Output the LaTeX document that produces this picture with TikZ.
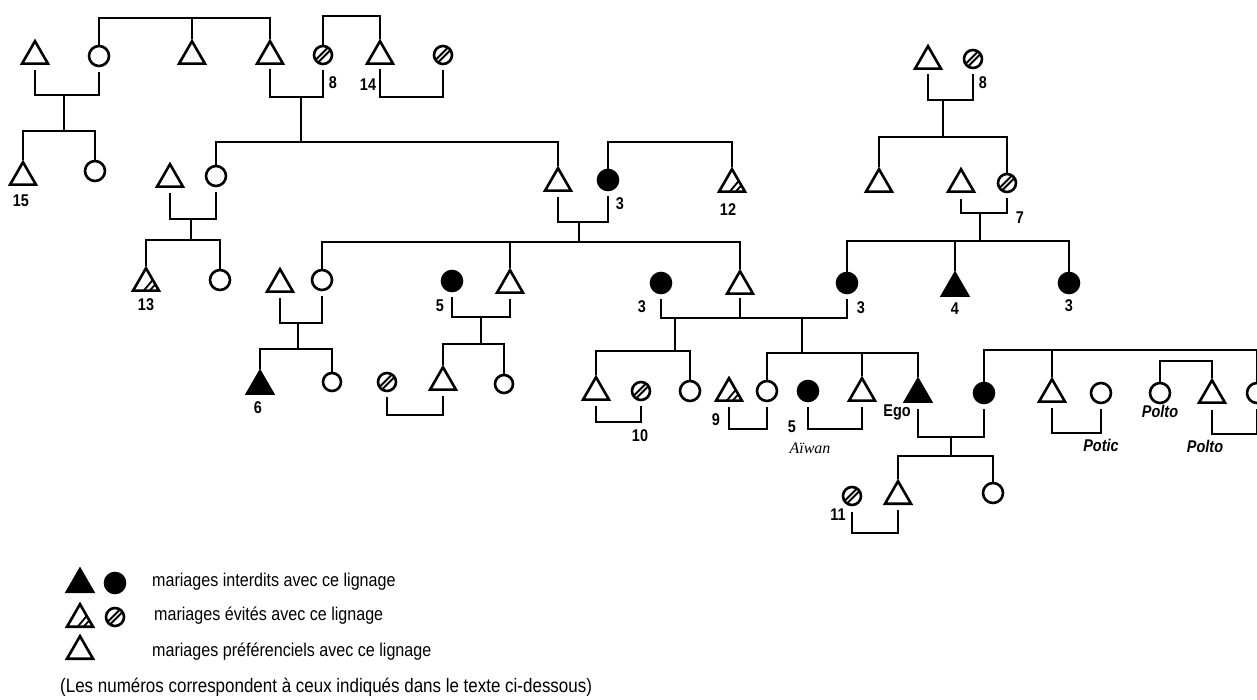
\documentclass[tikz,border=0pt]{standalone}
\usepackage{fontspec}
\setmainfont{Liberation Sans}
\newfontfamily\labfont[FakeStretch=0.85]{Liberation Sans}
\newfontfamily\legfont[FakeStretch=0.87]{Liberation Sans}
\newfontfamily\serfont{Liberation Serif}
\usetikzlibrary{shapes.geometric}
\tikzset{
  ln/.style={line width=2.8pt},
  tri/.style={regular polygon, regular polygon sides=3, minimum size=30pt, inner sep=0pt, draw, line width=2.6pt, anchor=south},
  ftri/.style={tri, fill=black},
  htri/.style={tri, path picture={
      \draw[line width=1.8pt] ([shift={(-3,12)}]path picture bounding box.center) -- ([shift={(8,-1)}]path picture bounding box.center);
      \draw[line width=1.8pt] ([shift={(3,12)}]path picture bounding box.center) -- ([shift={(11,3)}]path picture bounding box.center);}},
  circ/.style={circle, draw, line width=2.6pt, minimum size=20pt, inner sep=0pt},
  scirc/.style={circ, minimum size=18pt},
  fcirc/.style={circ, fill=black},
  hcirc/.style={circ, minimum size=18pt, path picture={
      \draw[line width=1.8pt] ([shift={(-7,4.5)}]path picture bounding box.center) -- ([shift={(4.5,-7)}]path picture bounding box.center);
      \draw[line width=1.8pt] ([shift={(-4.5,7)}]path picture bounding box.center) -- ([shift={(7,-4.5)}]path picture bounding box.center);}},
  lab/.style={font=\labfont\bfseries\fontsize{17}{17}\selectfont, inner sep=0pt},
  ilab/.style={font=\labfont\bfseries\itshape\fontsize{17}{17}\selectfont, inner sep=0pt},
  slab/.style={font=\serfont\itshape\fontsize{16}{16}\selectfont, inner sep=0pt},
  leg/.style={font=\legfont\fontsize{18.5}{18.5}\selectfont, inner sep=0pt, anchor=west},
}
\begin{document}
\begin{tikzpicture}[x=1pt,y=-1pt]
\fill[white] (0,0) rectangle (1257,700);
\useasboundingbox (0,0) rectangle (1257,700);
\clip (0,0) rectangle (1257,700);

% ---------- top generation
\node[tri] (A1) at (35,65) {};
\node[circ] (A2) at (99,56) {};
\node[tri] (A3) at (192,65) {};
\node[tri] (A4) at (270,65) {};
\node[hcirc] (A5) at (323,55) {};
\node[tri] (A6) at (380,65) {};
\node[hcirc] (A7) at (443,55) {};
\coordinate (s1) at (192,18);
\coordinate (s2) at (352,16);
\draw[ln] (A2.north) |- (s1) -| (A4.north);
\draw[ln] (A3.north) -- (s1);
\draw[ln] (A5.north) |- (s2) -| (A6.north);
\node[lab] (l8a) at (333,83) {8};
\node[lab] (l14) at (368,85) {14};

\coordinate (m1) at (64,95);
\coordinate (d1) at (64,131);
\draw[ln] ([yshift=-5pt]A1.south) |- (m1) -| ([yshift=-5pt]A2.south);
\draw[ln] (m1) -- (d1);
\node[tri] (B1) at (23,186) {};
\node[circ] (B2) at (95,171) {};
\draw[ln] (B1.north) |- (d1) -| (B2.north);
\node[lab] (l15) at (21,201) {15};

\coordinate (m2) at (301,97);
\coordinate (d2) at (301,142);
\draw[ln] ([yshift=-4pt]A4.south) |- (m2) -| ([yshift=-5pt]A5.south);
\draw[ln] (m2) -- (d2);
\coordinate (m3) at (412,97);
\draw[ln] ([yshift=-4pt]A6.south) |- (m3) -| ([yshift=-5pt]A7.south);

% ---------- second generation
\node[circ] (B3) at (216,176) {};
\node[tri] (B4) at (558,192) {};
\draw[ln] (B3.north) |- (d2) -| (B4.north);
\node[tri] (B5) at (170,188) {};
\coordinate (m4) at (191,219);
\coordinate (d4) at (191,240);
\draw[ln] ([yshift=-5pt]B5.south) |- (m4) -| ([yshift=-5pt]B3.south);
\draw[ln] (m4) -- (d4);
\node[htri] (C1) at (146,292) {};
\node[circ] (C2) at (220,280) {};
\draw[ln] (C1.north) |- (d4) -| (C2.north);
\node[lab] (l13) at (146,305) {13};

\node[fcirc] (B6) at (608,180) {};
\node[htri] (B7) at (732,193) {};
\coordinate (s3) at (670,142);
\draw[ln] (B6.north) |- (s3) -| (B7.north);
\node[lab] (l3a) at (620,204) {3};
\node[lab] (l12) at (728,210) {12};
\coordinate (m5) at (579,222);
\coordinate (d5) at (579,242);
\draw[ln] ([yshift=-5pt]B4.south) |- (m5) -| ([yshift=-5pt]B6.south);
\draw[ln] (m5) -- (d5);

% ---------- third generation
\node[circ] (C3) at (322,280) {};
\node[tri] (C4) at (510,294) {};
\node[tri] (C5) at (740,295) {};
\draw[ln] (C3.north) |- (d5) -| (C5.north);
\draw[ln] (C4.north) -- (C4.north |- d5);

\node[tri] (C6) at (280,293) {};
\coordinate (m6) at (298,323);
\coordinate (d6) at (298,349);
\draw[ln] ([yshift=-5pt]C6.south) |- (m6) -| ([yshift=-5pt]C3.south);
\draw[ln] (m6) -- (d6);
\node[ftri] (D1) at (260,395) {};
\node[scirc] (D2) at (332,382) {};
\draw[ln] (D1.north) |- (d6) -| (D2.north);
\node[lab] (l6) at (258,408) {6};

\node[fcirc] (C7) at (452,281) {};
\node[lab] (l5a) at (440,306) {5};
\coordinate (m7) at (481,317);
\coordinate (d7) at (481,344);
\draw[ln] ([yshift=-5pt]C7.south) |- (m7) -| ([yshift=-5pt]C4.south);
\draw[ln] (m7) -- (d7);
\node[tri] (D3) at (443,391) {};
\node[scirc] (D4) at (504,384) {};
\draw[ln] (D3.north) |- (d7) -| (D4.north);
\node[hcirc] (D5) at (387,382) {};
\coordinate (m8) at (415,415);
\draw[ln] ([yshift=-5pt]D5.south) |- (m8) -| ([yshift=-5pt]D3.south);

\node[fcirc] (C8) at (661,283) {};
\node[fcirc] (C9) at (847,283) {};
\node[lab] (l3b) at (642,307) {3};
\node[lab] (l3c) at (861,308) {3};
\coordinate (m9) at (675,318);
\coordinate (m10) at (802,318);
\draw[ln] ([yshift=-5pt]C8.south) |- (m9) -| ([yshift=-5pt]C9.south);
\draw[ln] ([yshift=-3pt]C5.south) -- (C5.south |- m9);
\coordinate (d9) at (675,351);
\coordinate (d10) at (802,353);
\draw[ln] (m9) -- (d9);
\draw[ln] (m10) -- (d10);

% ---------- fourth generation
\node[tri] (D6) at (596,401) {};
\node[hcirc] (D7) at (641,391) {};
\node[circ] (D8) at (690,391) {};
\draw[ln] (D6.north) |- (d9) -| (D8.north);
\coordinate (m11) at (619,422);
\draw[ln] ([yshift=-5pt]D6.south) |- (m11) -| ([yshift=-5pt]D7.south);
\node[lab] (l10) at (640,436) {10};

\node[circ] (D9) at (767,391) {};
\node[tri] (D10) at (862,402) {};
\node[ftri] (D11) at (918,403) {};
\draw[ln] (D9.north) |- (d10) -| (D11.north);
\draw[ln] (D10.north) -- (D10.north |- d10);
\node[htri] (D12) at (729,402) {};
\coordinate (m12) at (746,429);
\draw[ln] ([yshift=-5pt]D12.south) |- (m12) -| ([yshift=-5pt]D9.south);
\node[lab] (l9) at (716,420) {9};
\node[fcirc] (D13) at (808,391) {};
\coordinate (m13) at (835,429);
\draw[ln] ([yshift=-5pt]D13.south) |- (m13) -| ([yshift=-5pt]D10.south);
\node[lab] (l5b) at (792,427) {5};
\node[slab] (aiw) at (810,448) {Aïwan};
\node[lab] (ego) at (897,412) {Ego};

\node[fcirc] (D14) at (984,393) {};
\coordinate (m14) at (951,437);
\coordinate (d14) at (951,456);
\draw[ln] ([yshift=-6pt]D11.south) |- (m14) -| ([yshift=-5pt]D14.south);
\draw[ln] (m14) -- (d14);
\node[tri] (E1) at (898,505) {};
\node[circ] (E2) at (993,493) {};
\draw[ln] (E1.north) |- (d14) -| (E2.north);
\node[hcirc] (E3) at (852,496) {};
\coordinate (m15) at (875,533);
\draw[ln] ([yshift=-6pt]E3.south) |- (m15) -| ([yshift=-5pt]E1.south);
\node[lab] (l11) at (838,515) {11};

\coordinate (b1) at (1120,350);
\node[tri] (D15) at (1052,403) {};
\node[circ] (D18) at (1257,393) {};
\draw[ln] (D14.north) |- (b1) -| (D18.north);
\draw[ln] (D15.north) -- (D15.north |- b1);
\node[circ] (D16) at (1101,393) {};
\coordinate (m16) at (1077,433);
\draw[ln] ([yshift=-5pt]D15.south) |- (m16) -| ([yshift=-5pt]D16.south);
\node[ilab] (potic) at (1101,445) {Potic};
\node[circ] (D17) at (1160,393) {};
\node[tri] (D19) at (1212,404) {};
\coordinate (s4) at (1186,361);
\draw[ln] (D17.north) |- (s4) -| (D19.north);
\node[ilab] (polto1) at (1160,411) {Polto};
\coordinate (m17) at (1234,434);
\draw[ln] ([yshift=-6pt]D19.south) |- (m17) -| ([yshift=-5pt]D18.south);
\node[ilab] (polto2) at (1205,446) {Polto};

% ---------- right top
\node[tri] (F1) at (928,70) {};
\node[hcirc] (F2) at (973,59) {};
\coordinate (m18) at (943,100);
\coordinate (d18) at (943,137);
\draw[ln] ([yshift=-4pt]F1.south) |- (m18) -| ([yshift=-5pt]F2.south);
\draw[ln] (m18) -- (d18);
\node[lab] (l8b) at (983,83) {8};
\node[tri] (F3) at (879,193) {};
\node[hcirc] (F4) at (1007,183) {};
\draw[ln] (F3.north) |- (d18) -| (F4.north);
\node[tri] (F5) at (961,193) {};
\coordinate (m19) at (980,213);
\coordinate (d19) at (980,241);
\draw[ln] ([yshift=-6pt]F5.south) |- (m19) -| ([yshift=-5pt]F4.south);
\draw[ln] (m19) -- (d19);
\node[lab] (l7) at (1020,218) {7};
\node[ftri] (G2) at (955,297) {};
\node[fcirc] (G3) at (1069,283) {};
\draw[ln] (C9.north) |- (d19) -| (G3.north);
\draw[ln] (G2.north) -- (G2.north |- d19);
\node[lab] (l4) at (955,309) {4};
\node[lab] (l3d) at (1069,306) {3};

% ---------- legend
\node[ftri] (L1) at (80,593) {};
\node[fcirc] (L2) at (115,583) {};
\node[htri] (L3) at (80,628) {};
\node[hcirc] (L4) at (115,617) {};
\node[tri] (L5) at (80,660) {};
\node[leg] (t1) at (152,582) {mariages interdits avec ce lignage};
\node[leg] (t2) at (154,616) {mariages évités avec ce lignage};
\node[leg] (t3) at (152,652) {mariages préférenciels avec ce lignage};
\node[leg, font=\legfont\fontsize{19.5}{19.5}\selectfont] (t4) at (60,687) {(Les numéros correspondent à ceux indiqués dans le texte ci-dessous)};
\end{tikzpicture}
\end{document}
